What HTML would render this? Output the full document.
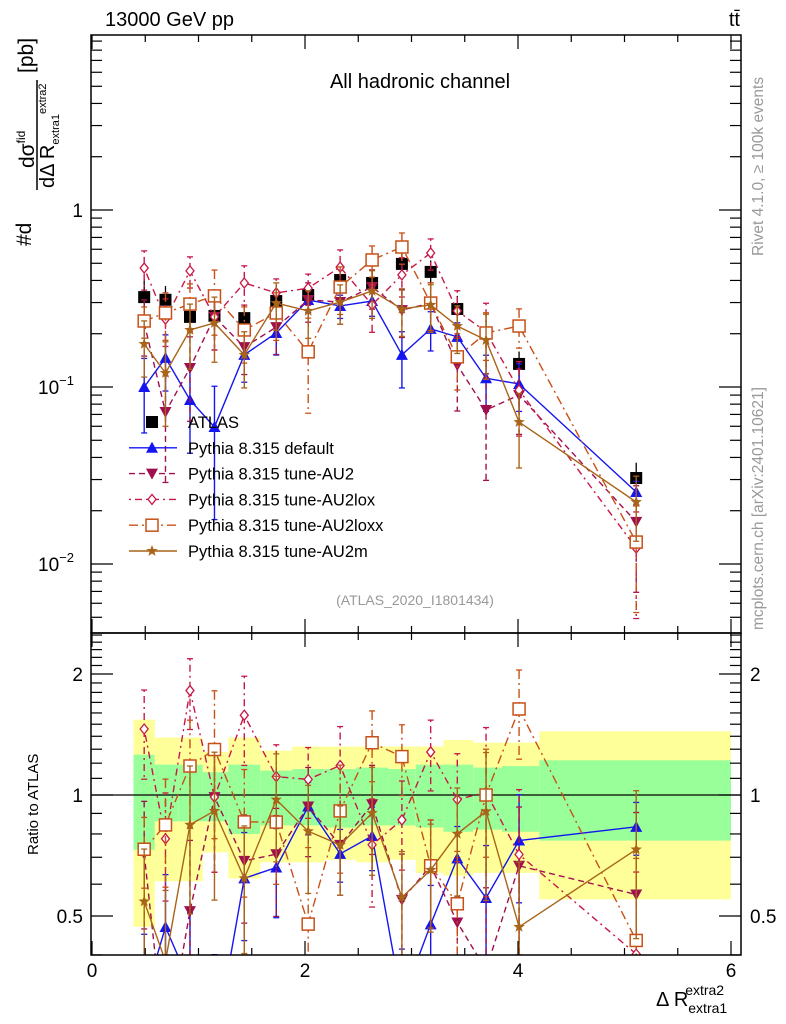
<!DOCTYPE html>
<html><head><meta charset="utf-8"><style>
html,body{margin:0;padding:0;background:#fff;overflow:hidden;width:786px;height:1024px;}
svg{display:block;font-family:"Liberation Sans",sans-serif;overflow:hidden;}
</style></head><body>
<svg id="c" width="786" height="1024" viewBox="0 0 786 1024" xmlns="http://www.w3.org/2000/svg">
<defs>
<clipPath id="cm"><rect x="91" y="35" width="650" height="598"/></clipPath>
<clipPath id="cr"><rect x="91" y="633" width="650" height="322"/></clipPath>
</defs>
<g id="bands" clip-path="url(#cr)"></g>
<g id="mainMarks" clip-path="url(#cm)"></g>
<g id="ratioMarks" clip-path="url(#cr)"></g>
<g id="axes"></g>
<text x="105" y="26" font-size="20">13000 GeV pp</text>
<text x="740" y="26" font-size="20" text-anchor="end">tt̄</text>
<text x="420" y="88" font-size="20" text-anchor="middle">All hadronic channel</text>
<text x="415" y="605" font-size="14" fill="#999" text-anchor="middle">(ATLAS_2020_I1801434)</text>
<text transform="translate(763,256) rotate(-90)" font-size="15.5" fill="#999">Rivet 4.1.0, ≥ 100k events</text>
<text transform="translate(763,630) rotate(-90)" font-size="15.5" fill="#999">mcplots.cern.ch [arXiv:2401.10621]</text>
<g>
<text transform="translate(31,246) rotate(-90)" font-size="21">#d</text>
<text transform="translate(34,168) rotate(-90)" font-size="21">dσ<tspan font-size="12" dy="-9">fid</tspan></text>
<line x1="37" y1="80" x2="37" y2="190" stroke="#000" stroke-width="1.5"/>
<text transform="translate(54,188) rotate(-90)" font-size="20">dΔ R<tspan font-size="11" dy="5">extra1</tspan><tspan font-size="11" dy="-13">extra2</tspan></text>
<text transform="translate(33,73) rotate(-90)" font-size="21">[pb]</text>
</g>
<text transform="translate(38,855) rotate(-90)" font-size="15">Ratio to ATLAS</text>
<text x="656" y="1006" font-size="20">Δ R<tspan font-size="14" dy="7">extra1</tspan><tspan font-size="14" dx="-42" dy="-18">extra2</tspan></text>
<g id="legend"></g>
</svg>
<script>
const xVals=[0.49,0.69,0.92,1.15,1.43,1.73,2.03,2.33,2.63,2.91,3.18,3.43,3.70,4.01,5.11];
const binEdges=[0.39,0.59,0.81,1.04,1.28,1.58,1.88,2.18,2.48,2.78,3.04,3.30,3.58,3.85,4.20,6.0];
const atlas=[0.322,0.311,0.249,0.252,0.245,0.306,0.331,0.402,0.387,0.496,0.447,0.276,0.202,0.135,0.0306];
const statUp=[1.26,1.19,1.19,1.14,1.19,1.15,1.16,1.16,1.17,1.16,1.19,1.19,1.17,1.18,1.22];
const statDn=[0.73,0.86,0.86,0.86,0.80,0.84,0.84,0.83,0.84,0.84,0.83,0.81,0.82,0.81,0.77];
const totUp=[1.54,1.39,1.39,1.28,1.39,1.29,1.32,1.32,1.32,1.32,1.32,1.37,1.35,1.35,1.44];
const totDn=[0.47,0.61,0.61,0.72,0.62,0.68,0.68,0.69,0.68,0.69,0.64,0.63,0.64,0.64,0.55];
const vDefault=[0.100,0.146,0.0845,0.0594,0.152,0.202,0.310,0.287,0.306,0.152,0.213,0.192,0.112,0.104,0.0255];
const vAU2=[0.230,0.0722,0.128,0.249,0.168,0.218,0.310,0.302,0.367,0.272,0.298,0.133,0.0742,0.090,0.0173];
const vAU2lox=[0.470,0.242,0.453,0.249,0.387,0.340,0.362,0.476,0.291,0.430,0.572,0.269,0.205,0.096,0.0123];
const vAU2loxx=[0.236,0.262,0.294,0.327,0.210,0.262,0.158,0.367,0.522,0.618,0.298,0.148,0.202,0.221,0.0133];
const vAU2m=[0.175,0.120,0.210,0.230,0.152,0.298,0.269,0.302,0.349,0.276,0.291,0.221,0.184,0.0634,0.0224];
const eDefault=[0.45,0.35,0.5,0.7,0.3,0.25,0.15,0.15,0.18,0.35,0.25,0.2,0.35,0.3,0.15];
const eAU2=[0.35,0.6,0.5,0.35,0.3,0.3,0.25,0.25,0.25,0.3,0.3,0.45,0.6,0.4,0.6];
const eAU2lox=[0.25,0.3,0.2,0.35,0.25,0.2,0.2,0.25,0.3,0.25,0.2,0.3,0.45,0.45,0.6];
const eAU2loxx=[0.2,0.3,0.3,0.4,0.35,0.3,0.55,0.3,0.2,0.2,0.3,0.35,0.3,0.25,0.6];
const eAU2m=[0.35,0.5,0.4,0.4,0.35,0.3,0.3,0.25,0.3,0.3,0.3,0.3,0.4,0.45,0.4];
const xTickLabels=["0","2","4","6"];
const yTickLabels=["10^-2","10^-1","1"];
const rTickLabels=["0.5","1","2"];

const NS="http://www.w3.org/2000/svg";
const X=v=>92+v*106.5;
const Y=v=>210-177*Math.log10(v);
const R=r=>795-121*Math.log2(r);
function el(tag,attrs,parent){const e=document.createElementNS(NS,tag);for(const k in attrs)e.setAttribute(k,attrs[k]);parent.appendChild(e);return e;}
const bands=document.getElementById('bands'),mm=document.getElementById('mainMarks'),rm=document.getElementById('ratioMarks'),ax=document.getElementById('axes'),lg=document.getElementById('legend');

for(let i=0;i<atlas.length;i++){
  const x0=X(binEdges[i]),x1=X(binEdges[i+1]);
  let r=el('rect',{x:x0,y:R(totUp[i]),width:x1-x0,height:R(totDn[i])-R(totUp[i]),fill:'#ffff99'},bands);
  
  
  r=el('rect',{x:x0,y:R(statUp[i]),width:x1-x0,height:R(statDn[i])-R(statUp[i]),fill:'#99ff99'},bands);
  
  
}
let one=el('line',{x1:91,x2:741,y1:R(1),y2:R(1),stroke:'#000','stroke-width':1.3},rm);



function marker(type,cx,cy,col,g){
  let m;
  if(type==='tri')m=el('path',{d:`M${cx-6},${cy+5}L${cx+6},${cy+5}L${cx},${cy-6}Z`,fill:col},g);
  else if(type==='tridn')m=el('path',{d:`M${cx-6},${cy-5}L${cx+6},${cy-5}L${cx},${cy+6}Z`,fill:col},g);
  else if(type==='dia')m=el('path',{d:`M${cx},${cy-5}L${cx+4},${cy}L${cx},${cy+5}L${cx-4},${cy}Z`,fill:'#fff',stroke:col,'stroke-width':1.3},g);
  else if(type==='sq')m=el('rect',{x:cx-6,y:cy-6,width:12,height:12,fill:'#fff',stroke:col,'stroke-width':1.5},g);
  else if(type==='star'){let p='';for(let k=0;k<10;k++){const a=-Math.PI/2+k*Math.PI/5,rr=k%2?2.5:6;p+=(k?'L':'M')+(cx+rr*Math.cos(a)).toFixed(1)+','+(cy+rr*Math.sin(a)).toFixed(1);}m=el('path',{d:p+'Z',fill:col},g);}
  else m=el('rect',{x:cx-6,y:cy-6,width:12,height:12,fill:'#000'},g);
  return m;
}
const series=[
 {name:'Pythia 8.315 default',v:vDefault,e:eDefault,col:'#1515f0',dash:'',m:'tri',key:'default'},
 {name:'Pythia 8.315 tune-AU2',v:vAU2,e:eAU2,col:'#a01050',dash:'6,4',m:'tridn',key:'au2'},
 {name:'Pythia 8.315 tune-AU2lox',v:vAU2lox,e:eAU2lox,col:'#c81848',dash:'2,4,7,4',m:'dia',key:'au2lox'},
 {name:'Pythia 8.315 tune-AU2loxx',v:vAU2loxx,e:eAU2loxx,col:'#c85018',dash:'9,4,2,4',m:'sq',key:'au2loxx'},
 {name:'Pythia 8.315 tune-AU2m',v:vAU2m,e:eAU2m,col:'#a86418',dash:'',m:'star',key:'au2m'}
];
function drawSeries(s,g,fy,ratio){
  const grp=el('g',{},g);
  
  
  const pts=s.v.map((v,i)=>[X(xVals[i]),fy(ratio?v/atlas[i]:v)]);
  el('polyline',{points:pts.map(p=>p.join(',')).join(' '),fill:'none',stroke:s.col,'stroke-width':1.4,'stroke-dasharray':s.dash},grp);
  s.v.forEach((v,i)=>{
    const b=ratio?v/atlas[i]:v;
    const x=X(xVals[i]),y1=fy(b*(1+s.e[i])),y2=fy(b*Math.max(0.02,1-s.e[i]));
    el('line',{x1:x,x2:x,y1:y1,y2:y2,stroke:s.col,'stroke-width':1.4,'stroke-dasharray':s.dash},grp);
    el('line',{x1:x-3,x2:x+3,y1:y1,y2:y1,stroke:s.col,'stroke-width':1.3},grp);
    el('line',{x1:x-3,x2:x+3,y1:y2,y2:y2,stroke:s.col,'stroke-width':1.3},grp);
    const mk=marker(s.m,x,fy(b),s.col,grp);
    
    
  });
}
const dg=el('g',{},mm);


atlas.forEach((v,i)=>{
  const x=X(xVals[i]);
  el('line',{x1:x,x2:x,y1:Y(v*(0.5+totUp[i]/2)),y2:Y(v*(0.5+totDn[i]/2)),stroke:'#000','stroke-width':1.3},dg);
});
series.forEach(s=>drawSeries(s,mm,Y,false));
atlas.forEach((v,i)=>{
  const m=marker('data',X(xVals[i]),Y(v),'#000',dg);
  
  
});
series.forEach(s=>drawSeries(s,rm,R,true));

function frame(y0,h,name){const f=el('rect',{x:91,y:y0,width:650,height:h,fill:'none',stroke:'#000','stroke-width':1.5},ax);}
frame(35,598,'main-frame');frame(633,322,'ratio-frame');
for(let k=0;k<=12;k++){
  const v=k*0.5,x=X(v),maj=(k%4===0);
  const L=maj?14:7;
  [[35,1],[633,-1],[633,1],[955,-1]].forEach(([y,d])=>el('line',{x1:x,x2:x,y1:y,y2:y+d*L,stroke:'#000','stroke-width':1.2},ax));
}
xTickLabels.forEach((t,i)=>{const tx=el('text',{x:X(i*2),y:977,'font-size':19,'text-anchor':'middle'},ax);tx.textContent=t;});
for(let d=-3;d<=0;d++){
  for(let m=1;m<=9;m++){
    const v=m*Math.pow(10,d),y=Y(v);
    if(y<35||y>633)continue;
    const L=m===1?22:11;
    el('line',{x1:91,x2:91+L,y1:y,y2:y,stroke:'#000','stroke-width':1.2},ax);
    el('line',{x1:741,x2:741-L,y1:y,y2:y,stroke:'#000','stroke-width':1.2},ax);
  }
}
yTickLabels.forEach((t,i)=>{
  const v=Math.pow(10,i-2),y=Y(v);
  const tx=el('text',{x:83,y:y+7,'font-size':19,'text-anchor':'end'},ax);
  
  
  if(t==='1'){tx.textContent='1';}
  else{tx.textContent='10';const ts=el('tspan',{dy:-9,'font-size':13},tx);ts.textContent=t.split('^')[1].replace('-','−');tx.setAttribute('x',38);tx.setAttribute('text-anchor','start');}
});
for(let r=0.4;r<=2.51;r+=0.1){
  const y=R(r);if(y<633||y>955)continue;
  const maj=Math.abs(r-0.5)<1e-6||Math.abs(r-1)<1e-6||Math.abs(r-2)<1e-6;
  const L=maj?22:11;
  el('line',{x1:91,x2:91+L,y1:y,y2:y,stroke:'#000','stroke-width':1.2},ax);
  el('line',{x1:741,x2:741-L,y1:y,y2:y,stroke:'#000','stroke-width':1.2},ax);
}
rTickLabels.forEach(t=>{
  const y=R(parseFloat(t));
  let tx=el('text',{x:83,y:y+7,'font-size':19,'text-anchor':'end'},ax);tx.textContent=t;
  
  
  tx=el('text',{x:750,y:y+7,'font-size':19},ax);tx.textContent=t;
  
  
});
const rows=[{name:'ATLAS',m:'data',col:'#000',dash:null,key:'atlas'}].concat(series);
rows.forEach((s,i)=>{
  const y=422+i*25.8;
  const g=el('g',{},lg);
  
  
  if(s.dash!==null)el('line',{x1:129,x2:177,y1:y,y2:y,stroke:s.col,'stroke-width':1.4,'stroke-dasharray':s.dash},g);
  if(s.m==='data')el('rect',{x:146,y:y-6,width:12,height:12,fill:'#000'},g);else marker(s.m,152,y,s.col,g);
  const t=el('text',{x:188,y:y+6,'font-size':16.5},g);t.textContent=s.name;
});
</script>
</body></html>
